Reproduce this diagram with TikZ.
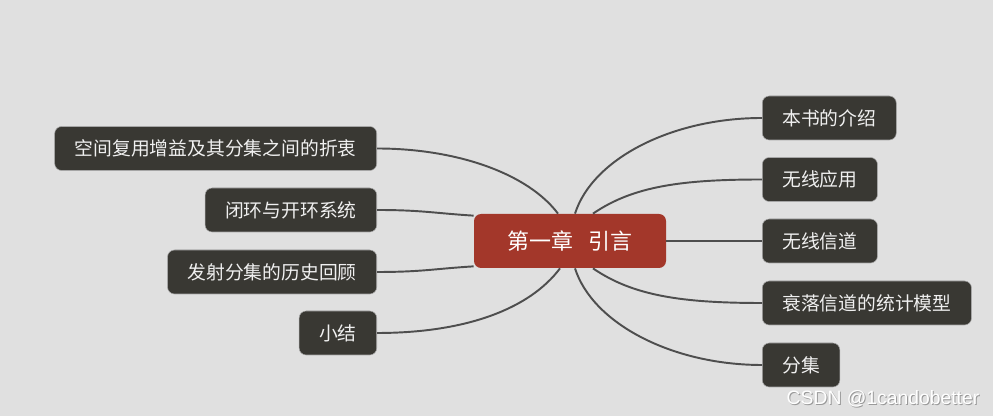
\documentclass[tikz,border=0pt]{standalone}
\usepackage{fontspec}
\newfontfamily\cjk{Noto Sans CJK SC}
\newfontfamily\wmfont{Liberation Sans}
\definecolor{bgcol}{HTML}{E0E0E0}
\definecolor{rootred}{HTML}{A3372A}
\definecolor{leafdark}{HTML}{393833}
\definecolor{linkgray}{HTML}{4E4E4E}
\begin{document}
\begin{tikzpicture}[
  every node/.style={font=\cjk},
  topic/.style={fill=rootred,text=white,rounded corners=4pt,minimum width=3.84cm,minimum height=1.08cm,font=\cjk\fontsize{12.5}{14}\selectfont},
  branch/.style={fill=leafdark,draw=gray!70,line width=0.3pt,text=white!94!black,rounded corners=4pt,minimum height=0.88cm,inner xsep=0.4cm,font=\cjk\fontsize{10.7}{13}\selectfont},
  link/.style={draw=linkgray,line width=1.1pt}]
\fill[bgcol] (0,0) rectangle (19.86,8.32);
\useasboundingbox (0,0) rectangle (19.86,8.32);
% centre
\node[topic] (root) at (11.4,3.5) {第一章\hspace{0.7em}引言};
% left side
\node[branch,anchor=east] (tradeoff) at (7.54,5.35) {空间复用增益及其分集之间的折衷};
\node[branch,anchor=east] (loop) at (7.54,4.12) {闭环与开环系统};
\node[branch,anchor=east] (history) at (7.54,2.88) {发射分集的历史回顾};
\node[branch,anchor=east] (summary) at (7.54,1.66) {小结};
% right side
\node[branch,anchor=west] (intro) at (15.24,5.96) {本书的介绍};
\node[branch,anchor=west] (apps) at (15.24,4.73) {无线应用};
\node[branch,anchor=west] (channel) at (15.24,3.5) {无线信道};
\node[branch,anchor=west] (fading) at (15.24,2.26) {衰落信道的统计模型};
\node[branch,anchor=west] (diversity) at (15.24,1.02) {分集};
% links
\draw[link] ([xshift=0.1cm]root.north) .. controls +(0.35,1.1) and +(-1.8,0) .. (intro.west);
\draw[link] ([xshift=0.46cm]root.north) .. controls +(0.8,0.55) and +(-1.6,0) .. (apps.west);
\draw[link] (root.east) -- (channel.west);
\draw[link] ([xshift=0.46cm]root.south) .. controls +(0.8,-0.55) and +(-1.6,0) .. (fading.west);
\draw[link] ([xshift=0.1cm]root.south) .. controls +(0.35,-1.1) and +(-1.8,0) .. (diversity.west);
\draw[link] (tradeoff.east) .. controls +(1.6,0) and +(-0.6,0.8) .. ([xshift=-0.24cm]root.north);
\draw[link] (loop.east) .. controls +(0.9,0) and +(-0.8,0.05) .. ([yshift=-0.04cm]root.north west);
\draw[link] (history.east) .. controls +(0.9,0) and +(-0.8,-0.05) .. ([yshift=0.04cm]root.south west);
\draw[link] (summary.east) .. controls +(1.8,0) and +(-0.6,-0.8) .. ([xshift=-0.2cm]root.south);
% watermark
\node[font=\wmfont\fontsize{11}{13}\selectfont,text=gray!80] at (17.68,0.32) {CSDN @1candobetter};
\node[font=\wmfont\fontsize{11}{13}\selectfont,text=white] (mark) at (17.66,0.34) {CSDN @1candobetter};
\end{tikzpicture}
\end{document}
